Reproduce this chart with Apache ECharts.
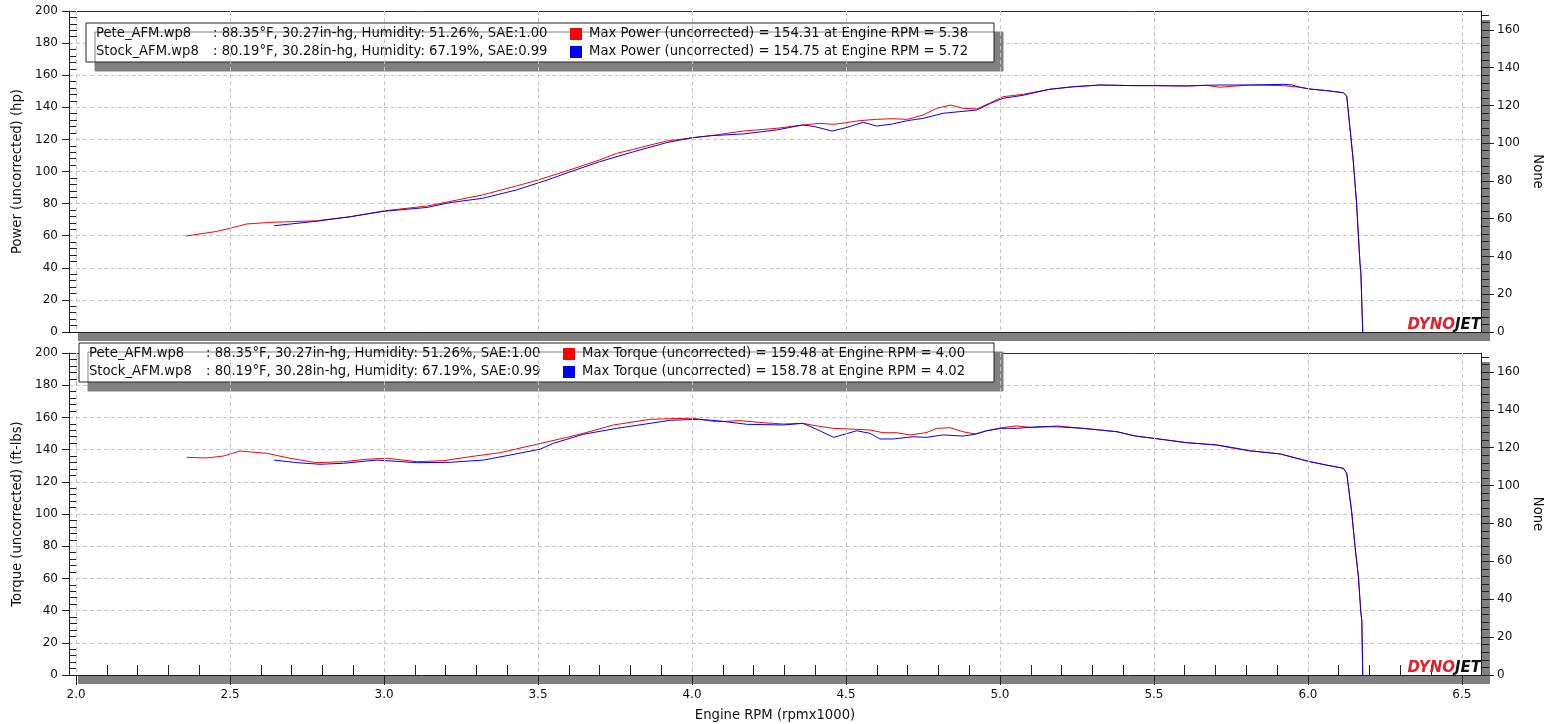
<!DOCTYPE html>
<html>
<head>
<meta charset="utf-8">
<title>Dyno comparison</title>
<script src="https://cdn.jsdelivr.net/npm/echarts@6/dist/echarts.min.js"></script>
<style>
  html, body { margin: 0; padding: 0; background: #fff; }
  #chart { width: 1549px; height: 724px; }
</style>
</head>
<body>
<div id="chart"></div>
<script>
// run info shown in the two legend boxes
const runNames = ['Pete_AFM.wp8', 'Stock_AFM.wp8']
const runConditions = [
  ': 88.35°F, 30.27in-hg, Humidity: 51.26%, SAE:1.00',
  ': 80.19°F, 30.28in-hg, Humidity: 67.19%, SAE:0.99'
]
const maxPowerText = [
  'Max Power (uncorrected) = 154.31 at Engine RPM = 5.38',
  'Max Power (uncorrected) = 154.75 at Engine RPM = 5.72'
]
const maxTorqueText = [
  'Max Torque (uncorrected) = 159.48 at Engine RPM = 4.00',
  'Max Torque (uncorrected) = 158.78 at Engine RPM = 4.02'
]

// tick values
const rpmMajorTicks = [2.0, 2.5, 3.0, 3.5, 4.0, 4.5, 5.0, 5.5, 6.0, 6.5]
const rpmMinorTicks = [
  2.1, 2.2, 2.3, 2.4, 2.6, 2.7, 2.8, 2.9, 3.1, 3.2, 3.3, 3.4, 3.6, 3.7, 3.8, 3.9,
  4.1, 4.2, 4.3, 4.4, 4.6, 4.7, 4.8, 4.9, 5.1, 5.2, 5.3, 5.4, 5.6, 5.7, 5.8, 5.9,
  6.1, 6.2, 6.3, 6.4
]
const rightTicks = [0, 20, 40, 60, 80, 100, 120, 140, 160]

// power, Pete run
const petePowerRpm = [2.356, 2.451, 2.5, 2.554, 2.63, 2.78, 2.89, 3.0, 3.14, 3.21, 3.32, 3.43, 3.5, 3.6,
  3.70, 3.755, 3.81, 3.864, 3.918, 4.0, 4.06, 4.166, 4.275, 4.36, 4.415, 4.46, 4.5, 4.545, 4.6, 4.65,
  4.7, 4.75, 4.795, 4.84, 4.88, 4.925, 4.97, 5.01, 5.076, 5.16, 5.238, 5.325, 5.43, 5.5, 5.606, 5.67,
  5.714, 5.81, 5.92, 5.974, 6.006, 6.06, 6.115, 6.126, 6.136, 6.147, 6.158, 6.169, 6.172, 6.178]
const petePowerHp = [59.8, 62.5, 64.6, 67.3, 68.3, 69.3, 71.8, 75.5, 78.5, 81.2, 85.4, 91, 94.7, 100.8,
  107.2, 111.3, 113.8, 116.5, 119, 121, 122.3, 125.2, 126.9, 129, 130, 129.4, 130.4, 131.7, 132.5, 132.9,
  132.5, 135.2, 139.4, 141.4, 139.4, 139, 142.9, 146.6, 148.1, 151.2, 152.8, 153.9, 153.5, 153.5, 153.3, 153.7,
  152.5, 153.9, 153.5, 152.5, 151.4, 150.4, 149.1, 147, 128, 107, 80.2, 42.8, 36.5, 0]

// power, Stock run
const stockPowerRpm = [2.643, 2.78, 2.89, 3.0, 3.14, 3.21, 3.32, 3.43, 3.53, 3.6, 3.70, 3.81, 3.918, 4.0,
  4.06, 4.166, 4.275, 4.36, 4.40, 4.455, 4.5, 4.556, 4.6, 4.65, 4.7, 4.75, 4.816, 4.87, 4.925, 4.97, 5.01,
  5.076, 5.16, 5.238, 5.325, 5.43, 5.5, 5.606, 5.67, 5.714, 5.81, 5.92, 5.947, 5.974, 6.006, 6.06, 6.115,
  6.126, 6.136, 6.147, 6.158, 6.169, 6.172, 6.178]
const stockPowerHp = [66.2, 69, 71.8, 75.2, 77.6, 80.5, 83.3, 88.5, 94.7, 99.5, 106.1, 112.3, 118, 121,
  122.3, 123.4, 125.9, 129, 127.9, 125.2, 127.3, 130.7, 128.3, 129.6, 131.7, 133.1, 136.3, 137.3, 138.3, 142.5, 145.6,
  147.5, 151.2, 152.8, 153.9, 153.5, 153.5, 153.3, 153.7, 153.9, 153.9, 154.3, 154, 152.5, 151.4, 150.4, 149.1,
  147, 128, 107, 80.2, 42.8, 36.5, 0]

// torque, Pete run
const peteTorqueRpm = [2.359, 2.424, 2.478, 2.532, 2.619, 2.695, 2.78, 2.868, 2.944, 3.01, 3.106, 3.193,
  3.28, 3.377, 3.496, 3.593, 3.647, 3.745, 3.864, 3.929, 4.0, 4.08, 4.156, 4.23, 4.297, 4.36, 4.405, 4.46,
  4.535, 4.578, 4.62, 4.665, 4.708, 4.76, 4.795, 4.838, 4.88, 4.919, 4.957, 5.005, 5.054, 5.108, 5.184,
  5.27, 5.38, 5.44, 5.5, 5.606, 5.703, 5.758, 5.81, 5.91, 6.006, 6.06, 6.115, 6.126, 6.142, 6.153, 6.164,
  6.172, 6.175, 6.178]
const peteTorqueFtLb = [135.2, 134.8, 136, 139.1, 137.7, 134.6, 131.9, 132.5, 134, 134.6, 132.5, 133.1,
  135.6, 138.1, 143.3, 147.6, 150.1, 155.3, 158.8, 159.2, 159.5, 157.3, 158, 156.7, 155.9, 156.3, 154.7, 153.2,
  152.6, 152.2, 150.5, 150.5, 149.1, 150.5, 153.2, 153.6, 151.1, 149.7, 151.7, 153.6, 154.7, 153.6, 154.7,
  153.2, 151.1, 148.4, 147, 144.3, 142.9, 140.8, 139.3, 137.3, 132.5, 130.4, 128.4, 125.3, 101.4, 79.7, 61,
  38.3, 34, 0]

// torque, Stock run
const stockTorqueRpm = [2.643, 2.717, 2.792, 2.868, 2.976, 3.106, 3.214, 3.322, 3.409, 3.506, 3.55, 3.647,
  3.755, 3.864, 3.929, 4.02, 4.08, 4.178, 4.297, 4.36, 4.405, 4.46, 4.535, 4.578, 4.61, 4.653, 4.718, 4.76,
  4.816, 4.88, 4.919, 4.957, 5.005, 5.054, 5.119, 5.184, 5.27, 5.38, 5.44, 5.5, 5.606, 5.703, 5.758, 5.81,
  5.91, 6.006, 6.06, 6.115, 6.126, 6.142, 6.153, 6.164, 6.172, 6.175, 6.178]
const stockTorqueFtLb = [133.5, 131.9, 130.9, 131.5, 133.5, 131.9, 132.1, 133.5, 136.6, 140.2, 143.9, 149.5,
  153.2, 156.3, 158.2, 158.8, 158, 155.7, 155.3, 156.3, 152.6, 147.6, 151.7, 150.1, 146.6, 146.6, 148, 147.6,
  149.1, 148.4, 149.5, 151.7, 153.2, 153.2, 154.2, 154.2, 153.2, 151.1, 148.4, 147, 144.3, 142.9, 141.2, 139.3,
  137.3, 132.5, 130.4, 128.4, 125.3, 101.4, 79.7, 61, 38.3, 34, 0]

const FONT = 'DejaVu Sans'
const TEXT_SIZE = 13.2
const TICK_SIZE = 12
const RED = '#ff0000'
const BLUE = '#0000ff'
const X_MIN = 1.977
const X_MAX = 6.562

const zip = (xs, ys) => xs.map((x, i) => [x, ys[i]])

const chart = echarts.init(document.getElementById('chart'), null, { renderer: 'canvas' })

// plot box: white panel with a hard grey drop shadow, frame lines come from the axes
const gridBase = {
  left: 69,
  width: 1412,
  outerBoundsMode: 'none',
  show: true,
  backgroundColor: '#fff',
  borderWidth: 0,
  shadowColor: '#808080',
  shadowBlur: 0,
  shadowOffsetX: 9,
  shadowOffsetY: 9
}

const dashed = { show: true, lineStyle: { color: '#c4c4c4', type: [4, 3], width: 1 } }
const textStyle = { color: '#111', fontFamily: FONT, fontSize: TEXT_SIZE }

function xMain(gridIndex, withLabels) {
  return {
    type: 'value', gridIndex, position: 'bottom',
    min: X_MIN, max: X_MAX, splitNumber: 9,
    axisLine: { show: true, onZero: false, lineStyle: { color: '#222', width: 1 } },
    axisTick: { show: withLabels, inside: false, length: 10, customValues: rpmMajorTicks, lineStyle: { color: '#222' } },
    axisLabel: {
      show: withLabels, customValues: rpmMajorTicks, margin: 14,
      color: '#111', fontFamily: FONT, fontSize: TICK_SIZE,
      formatter: v => v.toFixed(1)
    },
    splitLine: dashed,
    name: withLabels ? 'Engine RPM (rpmx1000)' : '',
    nameLocation: 'middle', nameGap: 34,
    nameTextStyle: textStyle,
    z: 5
  }
}

function xMinor(gridIndex) {
  return {
    type: 'value', gridIndex, position: 'bottom',
    min: X_MIN, max: X_MAX,
    axisLine: { show: false },
    axisTick: { show: true, inside: true, length: 10, customValues: rpmMinorTicks, lineStyle: { color: '#222' } },
    axisLabel: { show: false },
    splitLine: { show: false }
  }
}

// top frame line of a plot box
function xTop(gridIndex) {
  return {
    type: 'value', gridIndex, position: 'top',
    min: X_MIN, max: X_MAX,
    axisLine: { show: true, onZero: false, lineStyle: { color: '#333', width: 1 } },
    axisTick: { show: false },
    axisLabel: { show: false },
    splitLine: { show: false }
  }
}

function yLeft(gridIndex, name) {
  return {
    type: 'value', gridIndex, position: 'left',
    min: 0, max: 200, interval: 20,
    axisLine: { show: true, onZero: false, lineStyle: { color: '#222' } },
    axisTick: { show: true, inside: false, length: 7, lineStyle: { color: '#222' } },
    axisLabel: { margin: 11, color: '#111', fontFamily: FONT, fontSize: TICK_SIZE },
    splitLine: dashed,
    name, nameLocation: 'middle', nameGap: 41, nameRotate: 90,
    nameTextStyle: textStyle
  }
}

function yLeftMinor(gridIndex) {
  return {
    type: 'value', gridIndex, position: 'left',
    min: 0, max: 200, interval: 20,
    axisLine: { show: false },
    axisTick: { show: false, inside: true },
    minorTick: { show: true, splitNumber: 5, length: 8, lineStyle: { color: '#222' } },
    axisLabel: { show: false },
    splitLine: { show: false }
  }
}

function yRight(gridIndex) {
  return {
    type: 'value', gridIndex, position: 'right',
    min: 0, max: 170, interval: 20,
    axisLine: { show: true, onZero: false, lineStyle: { color: '#222' } },
    axisTick: { show: true, inside: false, length: 13, customValues: rightTicks, lineStyle: { color: '#222' } },
    minorTick: { show: true, splitNumber: 5, length: 8, lineStyle: { color: '#222' } },
    axisLabel: { customValues: rightTicks, margin: 16, color: '#111', fontFamily: FONT, fontSize: TICK_SIZE },
    splitLine: { show: false },
    name: 'None', nameLocation: 'middle', nameGap: 50, nameRotate: -90,
    nameTextStyle: textStyle
  }
}

function legendBox(left, top, maxTexts, valueWidth) {
  return {
    data: runNames,
    orient: 'vertical',
    left, top,
    icon: 'rect', itemWidth: 0, itemHeight: 0, itemGap: 0,
    padding: [2, 5, 1, 5],
    selectedMode: false,
    backgroundColor: '#fff',
    borderColor: '#222', borderWidth: 1, borderRadius: 0,
    shadowColor: '#808080', shadowBlur: 0, shadowOffsetX: 9, shadowOffsetY: 9,
    formatter: name => {
      const i = runNames.indexOf(name)
      const sq = i === 0 ? 'sr' : 'sb'
      return '{a|' + name + '}{b|' + runConditions[i] + '}{' + sq + '| }{g| }{c|' + maxTexts[i] + '}'
    },
    textStyle: {
      fontFamily: FONT, fontSize: TEXT_SIZE, color: '#111', lineHeight: 18,
      rich: {
        a: { width: 117, fontFamily: FONT, fontSize: TEXT_SIZE, color: '#111' },
        b: { width: 357, fontFamily: FONT, fontSize: TEXT_SIZE, color: '#111' },
        sr: { width: 12, height: 12, backgroundColor: RED },
        sb: { width: 12, height: 12, backgroundColor: BLUE },
        g: { width: 7 },
        c: { width: valueWidth, fontFamily: FONT, fontSize: TEXT_SIZE, color: '#111' }
      }
    }
  }
}

function logo(top) {
  return {
    type: 'text', right: 68, top, z: 100,
    style: {
      text: '{d|DYNO}{j|JET}',
      rich: {
        d: { fill: '#e3202b', fontFamily: FONT, fontSize: 15, fontWeight: 'bold', fontStyle: 'italic' },
        j: { fill: '#111', fontFamily: FONT, fontSize: 15, fontWeight: 'bold', fontStyle: 'italic' }
      }
    }
  }
}

function line(name, data, color, xAxisIndex, yAxisIndex) {
  return {
    name, type: 'line', data, xAxisIndex, yAxisIndex,
    showSymbol: false, symbol: 'none', smooth: false,
    lineStyle: { color, width: 1 }, itemStyle: { color },
    emphasis: { disabled: true }
  }
}

const option = {
  animation: false,
  backgroundColor: '#fff',
  grid: [
    Object.assign({ top: 11, height: 321 }, gridBase),
    Object.assign({ top: 353, height: 322 }, gridBase)
  ],
  xAxis: [xMain(0, false), xMain(1, true), xMinor(1), xTop(0), xTop(1)],
  yAxis: [
    yLeft(0, 'Power (uncorrected) (hp)'), yLeftMinor(0), yRight(0),
    yLeft(1, 'Torque (uncorrected) (ft-lbs)'), yLeftMinor(1), yRight(1)
  ],
  legend: [
    legendBox(86, 23, maxPowerText, 400),
    legendBox(79, 343, maxTorqueText, 407)
  ],
  graphic: [logo(318), logo(661)],
  series: [
    line(runNames[0], zip(petePowerRpm, petePowerHp), RED, 0, 0),
    line(runNames[1], zip(stockPowerRpm, stockPowerHp), BLUE, 0, 0),
    line(runNames[0], zip(peteTorqueRpm, peteTorqueFtLb), RED, 1, 3),
    line(runNames[1], zip(stockTorqueRpm, stockTorqueFtLb), BLUE, 1, 3)
  ]
}

chart.setOption(option)
</script>
</body>
</html>
